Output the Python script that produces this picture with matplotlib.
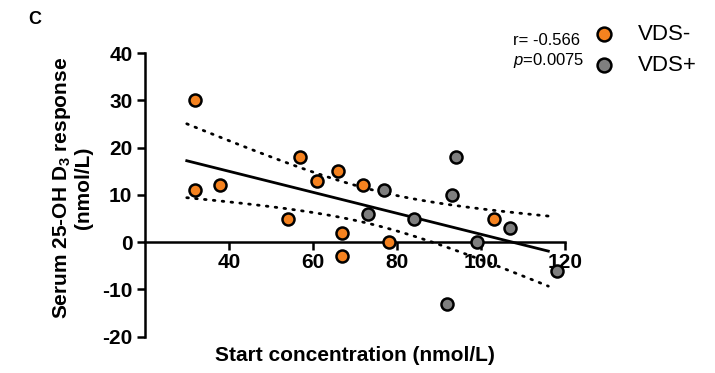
import numpy as np
import matplotlib
matplotlib.use('Agg')
import matplotlib.pyplot as plt

plt.rcParams['font.family'] = ['Liberation Sans', 'DejaVu Sans']
plt.rcParams['mathtext.fontset'] = 'custom'
plt.rcParams['mathtext.rm'] = 'Liberation Sans'
plt.rcParams['mathtext.it'] = 'Liberation Sans:italic'
plt.rcParams['mathtext.bf'] = 'Liberation Sans:bold'
plt.rcParams['axes.unicode_minus'] = False

# ── data ────────────────────────────────────────────────────────────────────
vds_neg_x = [32, 32, 38, 54, 57, 61, 66, 67, 67, 72, 78, 103]
vds_neg_y = [30, 11, 12, 5, 18, 13, 15, 2, -3, 12, 0, 5]
vds_pos_x = [77, 73, 84, 94, 93, 99, 107, 118, 92]
vds_pos_y = [11, 6, 5, 18, 10, 0, 3, -6, -13]

fit_x_start, fit_x_end = 30, 116
r_text = 'r= -0.566'
p_text = r'$\mathit{p}$=0.0075'

orange = '#F5821F'
grey = '#7F7F7F'

# ── linear fit with 95% confidence band ─────────────────────────────────────
x_all = np.array(vds_neg_x + vds_pos_x, dtype=float)
y_all = np.array(vds_neg_y + vds_pos_y, dtype=float)
n = len(x_all)
slope, intercept = np.polyfit(x_all, y_all, 1)
resid = y_all - (slope * x_all + intercept)
s_err = np.sqrt(np.sum(resid**2) / (n - 2))
sxx = np.sum((x_all - x_all.mean())**2)
t_crit = 2.093  # t(0.975, df=19)
xf = np.linspace(fit_x_start, fit_x_end, 100)
yf = slope * xf + intercept
half = t_crit * s_err * np.sqrt(1.0 / n + (xf - x_all.mean())**2 / sxx)

# ── plotting ────────────────────────────────────────────────────────────────
fig = plt.figure(figsize=(7.15, 3.73), dpi=100)
ax = fig.add_axes([0.2024, 0.0973, 0.588, 0.7605])

ax.plot(xf, yf, color='black', lw=2.0, zorder=2)
ax.plot(xf, yf + half, color='black', lw=2.0, ls=(0, (0.6, 2.6)), dash_capstyle='round', zorder=2)
ax.plot(xf, yf - half, color='black', lw=2.0, ls=(0, (0.6, 2.6)), dash_capstyle='round', zorder=2)

ax.scatter(vds_neg_x, vds_neg_y, s=75, c=orange, edgecolors='black', linewidths=1.8,
           zorder=3, label='VDS-', clip_on=False)
ax.scatter(vds_pos_x, vds_pos_y, s=75, c=grey, edgecolors='black', linewidths=1.8,
           zorder=3, label='VDS+', clip_on=False)

ax.set_xlim(20, 120)
ax.set_ylim(-20, 40)
ax.set_xticks([40, 60, 80, 100, 120])
ax.set_yticks(np.arange(-20, 41, 10))

ax.spines['top'].set_visible(False)
ax.spines['right'].set_visible(False)
ax.spines['bottom'].set_position(('data', 0))
for sp in ('left', 'bottom'):
    ax.spines[sp].set_linewidth(1.8)
ax.tick_params(axis='both', width=1.8, length=5.8, labelsize=15, direction='out')
ax.tick_params(axis='x', pad=2)
ax.tick_params(axis='y', pad=3)
for lbl in ax.get_xticklabels() + ax.get_yticklabels():
    lbl.set_fontweight('bold')

ax.text(0.5, -0.065, 'Start concentration (nmol/L)', transform=ax.transAxes,
        ha='center', va='center', fontsize=15, fontweight='bold')
ax.text(-0.173, 0.524, 'Serum 25-OH D$_\\mathbf{3}$ response\n(nmol/L)', transform=ax.transAxes,
        ha='center', va='center', rotation=90, fontsize=15, fontweight='bold',
        linespacing=1.1)

fig.text(28 / 715, 1 - 19 / 373, 'C', fontsize=13, fontweight='bold', ha='left', va='center')
fig.text(513 / 715, 1 - 51.5 / 373, r_text + '\n' + p_text, fontsize=12,
         ha='left', va='center', linespacing=1.25)

leg = ax.legend(loc='center left', bbox_to_anchor=(593 / 715, 1 - 50 / 373),
                bbox_transform=fig.transFigure, frameon=False, fontsize=16,
                handlelength=1.0, handletextpad=1.0, labelspacing=0.45,
                borderpad=0, borderaxespad=0, markerscale=1.15)

fig.savefig('out.png', dpi=100)
